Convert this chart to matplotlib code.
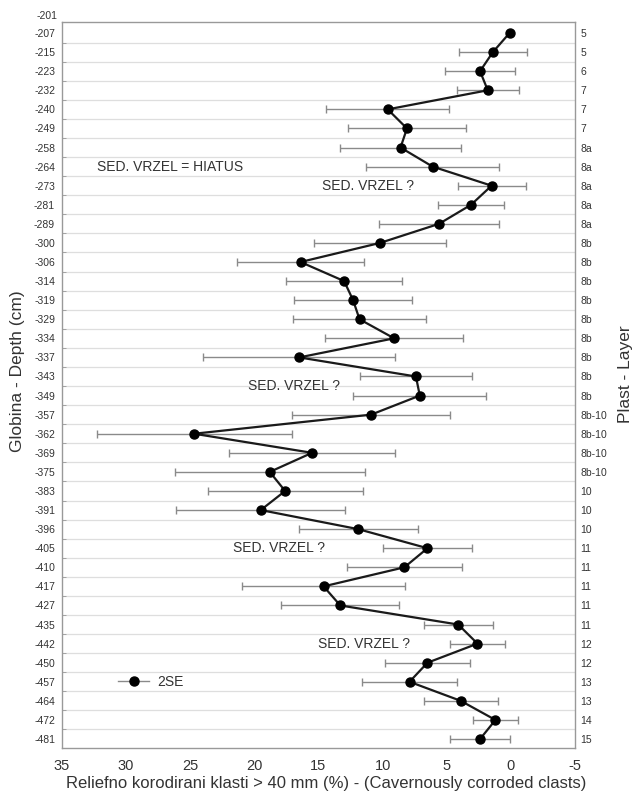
import matplotlib
matplotlib.use("Agg")
import matplotlib.pyplot as plt
from matplotlib.lines import Line2D
import numpy as np

plt.rcParams['font.family'] = ['Liberation Sans', 'DejaVu Sans']

# depth (cm), value (%) and 2SE for every sampled level
depth = [-207, -215, -223, -232, -240, -249, -258, -264, -273, -281, -289,
         -300, -306, -314, -319, -329, -334, -337, -343, -349, -357, -362,
         -369, -375, -383, -391, -396, -405, -410, -417, -427, -435, -442,
         -450, -457, -464, -472, -481]
layer = ['5', '5', '6', '7', '7', '7', '8a', '8a', '8a', '8a', '8a',
         '8b', '8b', '8b', '8b', '8b', '8b', '8b', '8b', '8b',
         '8b-10', '8b-10', '8b-10', '8b-10', '10', '10', '10',
         '11', '11', '11', '11', '11', '12', '12', '13', '13', '14', '15']
vals = [0.1, 1.4, 2.4, 1.8, 9.6, 8.1, 8.6, 6.1, 1.5, 3.1, 5.6, 10.2, 16.4,
        13.0, 12.3, 11.8, 9.1, 16.5, 7.4, 7.1, 10.9, 24.7, 15.5, 18.8, 17.6,
        19.5, 11.9, 6.5, 8.3, 14.6, 13.3, 4.1, 2.6, 6.5, 7.9, 3.9, 1.2, 2.4]
err = [0, 2.65, 2.75, 2.4, 4.8, 4.6, 4.75, 5.2, 2.65, 2.6, 4.7, 5.15, 4.95,
       4.55, 4.6, 5.15, 5.4, 7.5, 4.4, 5.2, 6.15, 7.6, 6.5, 7.4, 6.05, 6.6,
       4.65, 3.45, 4.5, 6.35, 4.6, 2.7, 2.15, 3.35, 3.7, 2.9, 1.75, 2.35]
top_label = '-201'
xticks = [35, 30, 25, 20, 15, 10, 5, 0, -5]

# notes: text, x (%), row index
notes = [('SED. VRZEL = HIATUS', 32.3, 7),
         ('SED. VRZEL ?', 14.7, 8),
         ('SED. VRZEL ?', 20.5, 18.5),
         ('SED. VRZEL ?', 21.7, 27),
         ('SED. VRZEL ?', 15.0, 32)]

txt = '#333333'
grey = '#8a8a8a'

fig = plt.figure(figsize=(6.36, 7.96), dpi=100)
ax = fig.add_axes([0.0975, 0.0603, 0.8065, 0.9121])

rows = np.arange(len(depth))
ax.errorbar(vals, rows, xerr=err, fmt='none', ecolor=grey, elinewidth=1.0,
            capsize=3, capthick=1.0, zorder=2)
ax.plot(vals, rows, '-', color='#1a1a1a', lw=1.6, zorder=3)
ax.plot(vals, rows, 'o', color='black', ms=6.5, zorder=4)

ax.set_xlim(35, -5)
ax.set_ylim(len(depth) - 0.53, -0.58)

ax.set_xticks(xticks)
ax.set_xticklabels([str(v) for v in xticks], fontsize=10.5, color=txt)
ax.tick_params(axis='x', length=0, pad=8)

ax.set_yticks(rows)
ax.set_yticklabels([str(d) for d in depth], fontsize=7.5, color=txt)
ax.set_yticks(rows[:-1] + 0.5, minor=True)
ax.tick_params(axis='y', which='major', length=0, pad=5)
ax.tick_params(axis='y', which='minor', length=3, direction='in',
               color='#999999', right=True)
ax.yaxis.grid(True, which='minor', color='#dedede', lw=0.9)
ax.text(-0.0085, -0.9, top_label, transform=ax.get_yaxis_transform(),
        ha='right', va='center', fontsize=7.5, color=txt)

for s in ax.spines.values():
    s.set_color('#999999')
    s.set_linewidth(1.0)

# layer labels on the right
ax2 = ax.twinx()
ax2.set_ylim(ax.get_ylim())
ax2.set_yticks(rows)
ax2.set_yticklabels(layer, fontsize=7.5, color=txt)
ax2.tick_params(axis='y', length=0, pad=4)
for s in ax2.spines.values():
    s.set_visible(False)
ax2.set_ylabel('Plast - Layer', fontsize=12.5, color=txt)
ax2.yaxis.set_label_coords(1.083, 0.515)

ax.set_ylabel('Globina - Depth (cm)', fontsize=12.5, color=txt)
ax.yaxis.set_label_coords(-0.072, 0.519)
ax.set_xlabel('Reliefno korodirani klasti > 40 mm (%) - (Cavernously corroded clasts)',
              fontsize=12, color=txt, labelpad=3)
ax.xaxis.set_label_coords(0.515, -0.038)

for t, x, r in notes:
    ax.text(x, r, t, ha='left', va='center', fontsize=10, color=txt)

h = Line2D([], [], color=grey, lw=1.0, marker='o', ms=6.5,
           mfc='black', mec='black')
ax.legend([h], ['2SE'], loc='center left', bbox_to_anchor=(0.11, 0.091),
          frameon=False, fontsize=10, handlelength=2.2, handletextpad=0.6,
          borderpad=0, borderaxespad=0, labelcolor=txt)

fig.savefig('out.png', dpi=100)
